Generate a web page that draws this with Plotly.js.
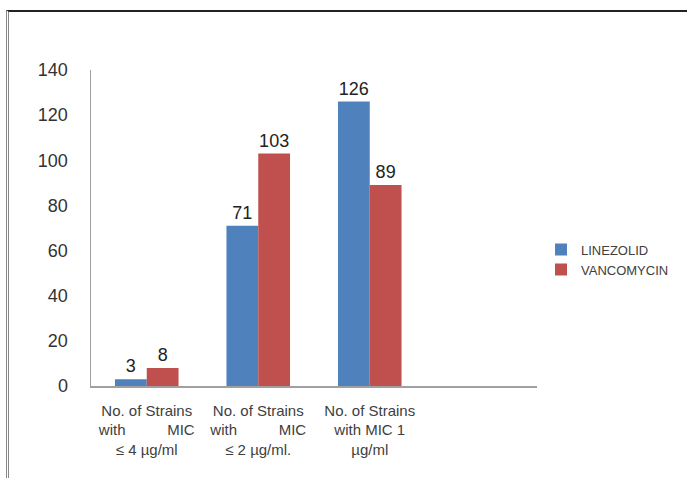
<!DOCTYPE html>
<html>
<head>
<meta charset="utf-8">
<script src="https://cdn.plot.ly/plotly-3.0.1.min.js"></script>
<style>
  html, body { margin:0; padding:0; background:#fff; }
  #wrap { position:relative; width:687px; height:478px; }
  #chart { position:absolute; left:0; top:0; width:687px; height:478px; }
  #frame { position:absolute; left:6px; top:10px; width:681px; height:468px;
           border-top:2px solid #222; border-left:3px double #888; box-sizing:border-box; pointer-events:none; }
</style>
</head>
<body>
<div id="wrap">
  <div id="chart"></div>
  <div id="frame"></div>
</div>
<script>
var NB = "\u00A0";
var categories = ["c1", "c2", "c3", "c4"];
var tickLabels = [
  "No. of Strains<br>with" + NB.repeat(10) + "MIC<br>≤ 4 µg/ml",
  "No. of Strains<br>with" + NB.repeat(10) + "MIC<br>≤ 2 µg/ml.",
  "No. of Strains<br>with MIC 1<br>µg/ml",
  ""
];
var linezolid = [3, 71, 126, null];
var vancomycin = [8, 103, 89, null];
var yTicks = [0, 20, 40, 60, 80, 100, 120, 140];

var FONT = "Liberation Sans, Arial, sans-serif";
var labelFont = {family: FONT, size: 18, color: "#222"};

var traces = [
  {type: "bar", name: "LINEZOLID", x: categories, y: linezolid,
   marker: {color: "#4F81BD"}, text: linezolid.map(function(v){return v==null?"":String(v);}),
   textposition: "outside", textfont: labelFont, cliponaxis: false, hoverinfo: "none"},
  {type: "bar", name: "VANCOMYCIN", x: categories, y: vancomycin,
   marker: {color: "#C0504D"}, text: vancomycin.map(function(v){return v==null?"":String(v);}),
   textposition: "outside", textfont: labelFont, cliponaxis: false, hoverinfo: "none"}
];

var layout = {
  width: 687, height: 478,
  margin: {l: 91, r: 150, t: 70, b: 92},
  paper_bgcolor: "#fff", plot_bgcolor: "#fff",
  barmode: "group", bargap: 0.43, bargroupgap: 0,
  showlegend: true,
  legend: {x: 1.009, xanchor: "left", y: 0.4, yanchor: "middle",
           font: {family: FONT, size: 13, color: "#404040"},
           bgcolor: "rgba(0,0,0,0)"},
  xaxis: {type: "category", categoryorder: "array", categoryarray: categories,
          tickvals: categories, ticktext: tickLabels, range: [-0.5, 3.5],
          showline: true, linecolor: "#a0a0a0", linewidth: 1.5, ticks: "", showgrid: false,
          zeroline: false, ticklabelstandoff: 10,
          tickfont: {family: FONT, size: 15, color: "#404040"}},
  yaxis: {range: [0, 140], tickvals: yTicks, showline: true, linecolor: "#a0a0a0", linewidth: 1.5,
          ticks: "", showgrid: false, zeroline: false, ticklabelstandoff: 18,
          tickfont: {family: FONT, size: 18, color: "#333"}}
};

Plotly.newPlot("chart", traces, layout, {staticPlot: true, displayModeBar: false});
</script>
</body>
</html>
